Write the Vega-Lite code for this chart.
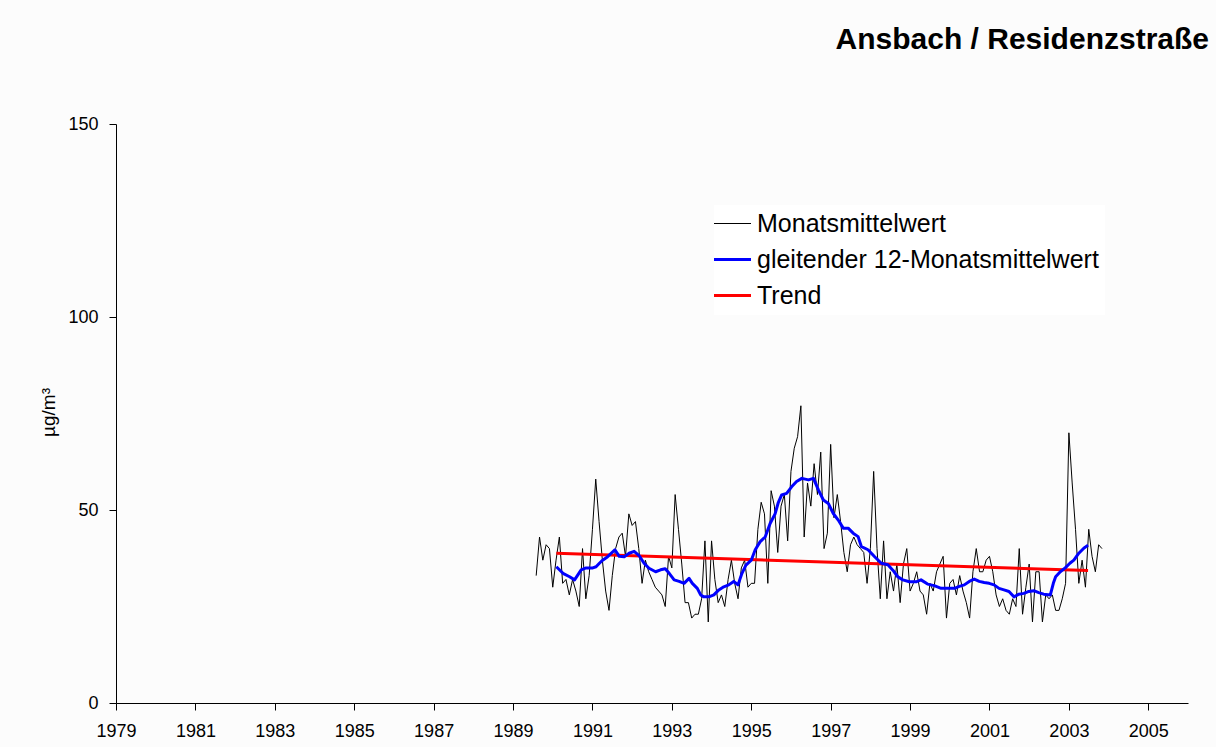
{
  "$schema": "https://vega.github.io/schema/vega-lite/v6.json",
  "width": 1072,
  "height": 579,
  "autosize": {"type": "none"},
  "padding": {"left": 116, "top": 124, "right": 28, "bottom": 44},
  "background": "#fcfcfc",
  "title": {
    "text": "Ansbach / Residenzstraße",
    "anchor": "end",
    "frame": "group",
    "font": "Liberation Sans",
    "fontSize": 30,
    "fontWeight": "bold",
    "color": "#000000",
    "baseline": "alphabetic",
    "offset": 36,
    "dx": 21
  },
  "data": {
    "values": [
      {"t": 1989.583, "v": 33, "s": "Monatsmittelwert"},
      {"t": 1989.667, "v": 43, "s": "Monatsmittelwert"},
      {"t": 1989.75, "v": 37, "s": "Monatsmittelwert"},
      {"t": 1989.833, "v": 41, "s": "Monatsmittelwert"},
      {"t": 1989.917, "v": 40, "s": "Monatsmittelwert"},
      {"t": 1990.0, "v": 30, "s": "Monatsmittelwert"},
      {"t": 1990.083, "v": 37, "s": "Monatsmittelwert"},
      {"t": 1990.167, "v": 43, "s": "Monatsmittelwert"},
      {"t": 1990.25, "v": 31, "s": "Monatsmittelwert"},
      {"t": 1990.333, "v": 32, "s": "Monatsmittelwert"},
      {"t": 1990.417, "v": 28, "s": "Monatsmittelwert"},
      {"t": 1990.5, "v": 32, "s": "Monatsmittelwert"},
      {"t": 1990.583, "v": 29, "s": "Monatsmittelwert"},
      {"t": 1990.667, "v": 25, "s": "Monatsmittelwert"},
      {"t": 1990.75, "v": 40, "s": "Monatsmittelwert"},
      {"t": 1990.833, "v": 27, "s": "Monatsmittelwert"},
      {"t": 1990.917, "v": 33, "s": "Monatsmittelwert"},
      {"t": 1991.0, "v": 45, "s": "Monatsmittelwert"},
      {"t": 1991.083, "v": 58, "s": "Monatsmittelwert"},
      {"t": 1991.167, "v": 47, "s": "Monatsmittelwert"},
      {"t": 1991.25, "v": 37, "s": "Monatsmittelwert"},
      {"t": 1991.333, "v": 29, "s": "Monatsmittelwert"},
      {"t": 1991.417, "v": 24, "s": "Monatsmittelwert"},
      {"t": 1991.5, "v": 33, "s": "Monatsmittelwert"},
      {"t": 1991.583, "v": 40, "s": "Monatsmittelwert"},
      {"t": 1991.667, "v": 43, "s": "Monatsmittelwert"},
      {"t": 1991.75, "v": 44, "s": "Monatsmittelwert"},
      {"t": 1991.833, "v": 38, "s": "Monatsmittelwert"},
      {"t": 1991.917, "v": 49, "s": "Monatsmittelwert"},
      {"t": 1992.0, "v": 46, "s": "Monatsmittelwert"},
      {"t": 1992.083, "v": 47, "s": "Monatsmittelwert"},
      {"t": 1992.167, "v": 40, "s": "Monatsmittelwert"},
      {"t": 1992.25, "v": 31, "s": "Monatsmittelwert"},
      {"t": 1992.333, "v": 37, "s": "Monatsmittelwert"},
      {"t": 1992.417, "v": 34, "s": "Monatsmittelwert"},
      {"t": 1992.5, "v": 32, "s": "Monatsmittelwert"},
      {"t": 1992.583, "v": 30, "s": "Monatsmittelwert"},
      {"t": 1992.667, "v": 29, "s": "Monatsmittelwert"},
      {"t": 1992.75, "v": 28, "s": "Monatsmittelwert"},
      {"t": 1992.833, "v": 25, "s": "Monatsmittelwert"},
      {"t": 1992.917, "v": 38, "s": "Monatsmittelwert"},
      {"t": 1993.0, "v": 35, "s": "Monatsmittelwert"},
      {"t": 1993.083, "v": 54, "s": "Monatsmittelwert"},
      {"t": 1993.167, "v": 45, "s": "Monatsmittelwert"},
      {"t": 1993.25, "v": 36, "s": "Monatsmittelwert"},
      {"t": 1993.333, "v": 26, "s": "Monatsmittelwert"},
      {"t": 1993.417, "v": 26, "s": "Monatsmittelwert"},
      {"t": 1993.5, "v": 22, "s": "Monatsmittelwert"},
      {"t": 1993.583, "v": 23, "s": "Monatsmittelwert"},
      {"t": 1993.667, "v": 23, "s": "Monatsmittelwert"},
      {"t": 1993.75, "v": 27, "s": "Monatsmittelwert"},
      {"t": 1993.833, "v": 42, "s": "Monatsmittelwert"},
      {"t": 1993.917, "v": 21, "s": "Monatsmittelwert"},
      {"t": 1994.0, "v": 42, "s": "Monatsmittelwert"},
      {"t": 1994.083, "v": 32, "s": "Monatsmittelwert"},
      {"t": 1994.167, "v": 26, "s": "Monatsmittelwert"},
      {"t": 1994.25, "v": 28, "s": "Monatsmittelwert"},
      {"t": 1994.333, "v": 25, "s": "Monatsmittelwert"},
      {"t": 1994.417, "v": 32, "s": "Monatsmittelwert"},
      {"t": 1994.5, "v": 37, "s": "Monatsmittelwert"},
      {"t": 1994.583, "v": 31, "s": "Monatsmittelwert"},
      {"t": 1994.667, "v": 27, "s": "Monatsmittelwert"},
      {"t": 1994.75, "v": 35, "s": "Monatsmittelwert"},
      {"t": 1994.833, "v": 37, "s": "Monatsmittelwert"},
      {"t": 1994.917, "v": 30, "s": "Monatsmittelwert"},
      {"t": 1995.0, "v": 31, "s": "Monatsmittelwert"},
      {"t": 1995.083, "v": 31, "s": "Monatsmittelwert"},
      {"t": 1995.167, "v": 45, "s": "Monatsmittelwert"},
      {"t": 1995.25, "v": 52, "s": "Monatsmittelwert"},
      {"t": 1995.333, "v": 49, "s": "Monatsmittelwert"},
      {"t": 1995.417, "v": 31, "s": "Monatsmittelwert"},
      {"t": 1995.5, "v": 55, "s": "Monatsmittelwert"},
      {"t": 1995.583, "v": 51, "s": "Monatsmittelwert"},
      {"t": 1995.667, "v": 39, "s": "Monatsmittelwert"},
      {"t": 1995.75, "v": 51, "s": "Monatsmittelwert"},
      {"t": 1995.833, "v": 54, "s": "Monatsmittelwert"},
      {"t": 1995.917, "v": 42, "s": "Monatsmittelwert"},
      {"t": 1996.0, "v": 60, "s": "Monatsmittelwert"},
      {"t": 1996.083, "v": 66, "s": "Monatsmittelwert"},
      {"t": 1996.167, "v": 69, "s": "Monatsmittelwert"},
      {"t": 1996.25, "v": 77, "s": "Monatsmittelwert"},
      {"t": 1996.333, "v": 43, "s": "Monatsmittelwert"},
      {"t": 1996.417, "v": 57, "s": "Monatsmittelwert"},
      {"t": 1996.5, "v": 51, "s": "Monatsmittelwert"},
      {"t": 1996.583, "v": 62, "s": "Monatsmittelwert"},
      {"t": 1996.667, "v": 54, "s": "Monatsmittelwert"},
      {"t": 1996.75, "v": 65, "s": "Monatsmittelwert"},
      {"t": 1996.833, "v": 40, "s": "Monatsmittelwert"},
      {"t": 1996.917, "v": 44, "s": "Monatsmittelwert"},
      {"t": 1997.0, "v": 67, "s": "Monatsmittelwert"},
      {"t": 1997.083, "v": 48, "s": "Monatsmittelwert"},
      {"t": 1997.167, "v": 54, "s": "Monatsmittelwert"},
      {"t": 1997.25, "v": 47, "s": "Monatsmittelwert"},
      {"t": 1997.333, "v": 39, "s": "Monatsmittelwert"},
      {"t": 1997.417, "v": 34, "s": "Monatsmittelwert"},
      {"t": 1997.5, "v": 41, "s": "Monatsmittelwert"},
      {"t": 1997.583, "v": 43, "s": "Monatsmittelwert"},
      {"t": 1997.667, "v": 41, "s": "Monatsmittelwert"},
      {"t": 1997.75, "v": 40, "s": "Monatsmittelwert"},
      {"t": 1997.833, "v": 39, "s": "Monatsmittelwert"},
      {"t": 1997.917, "v": 31, "s": "Monatsmittelwert"},
      {"t": 1998.0, "v": 40, "s": "Monatsmittelwert"},
      {"t": 1998.083, "v": 60, "s": "Monatsmittelwert"},
      {"t": 1998.167, "v": 40, "s": "Monatsmittelwert"},
      {"t": 1998.25, "v": 27, "s": "Monatsmittelwert"},
      {"t": 1998.333, "v": 42, "s": "Monatsmittelwert"},
      {"t": 1998.417, "v": 27, "s": "Monatsmittelwert"},
      {"t": 1998.5, "v": 34, "s": "Monatsmittelwert"},
      {"t": 1998.583, "v": 29, "s": "Monatsmittelwert"},
      {"t": 1998.667, "v": 36, "s": "Monatsmittelwert"},
      {"t": 1998.75, "v": 26, "s": "Monatsmittelwert"},
      {"t": 1998.833, "v": 36, "s": "Monatsmittelwert"},
      {"t": 1998.917, "v": 40, "s": "Monatsmittelwert"},
      {"t": 1999.0, "v": 29, "s": "Monatsmittelwert"},
      {"t": 1999.083, "v": 31, "s": "Monatsmittelwert"},
      {"t": 1999.167, "v": 34, "s": "Monatsmittelwert"},
      {"t": 1999.25, "v": 29, "s": "Monatsmittelwert"},
      {"t": 1999.333, "v": 28, "s": "Monatsmittelwert"},
      {"t": 1999.417, "v": 23, "s": "Monatsmittelwert"},
      {"t": 1999.5, "v": 31, "s": "Monatsmittelwert"},
      {"t": 1999.583, "v": 29, "s": "Monatsmittelwert"},
      {"t": 1999.667, "v": 34, "s": "Monatsmittelwert"},
      {"t": 1999.75, "v": 36, "s": "Monatsmittelwert"},
      {"t": 1999.833, "v": 38, "s": "Monatsmittelwert"},
      {"t": 1999.917, "v": 22, "s": "Monatsmittelwert"},
      {"t": 2000.0, "v": 31, "s": "Monatsmittelwert"},
      {"t": 2000.083, "v": 32, "s": "Monatsmittelwert"},
      {"t": 2000.167, "v": 28, "s": "Monatsmittelwert"},
      {"t": 2000.25, "v": 33, "s": "Monatsmittelwert"},
      {"t": 2000.333, "v": 29, "s": "Monatsmittelwert"},
      {"t": 2000.417, "v": 26, "s": "Monatsmittelwert"},
      {"t": 2000.5, "v": 22, "s": "Monatsmittelwert"},
      {"t": 2000.583, "v": 34, "s": "Monatsmittelwert"},
      {"t": 2000.667, "v": 40, "s": "Monatsmittelwert"},
      {"t": 2000.75, "v": 34, "s": "Monatsmittelwert"},
      {"t": 2000.833, "v": 34, "s": "Monatsmittelwert"},
      {"t": 2000.917, "v": 37, "s": "Monatsmittelwert"},
      {"t": 2001.0, "v": 38, "s": "Monatsmittelwert"},
      {"t": 2001.083, "v": 34, "s": "Monatsmittelwert"},
      {"t": 2001.167, "v": 28, "s": "Monatsmittelwert"},
      {"t": 2001.25, "v": 25, "s": "Monatsmittelwert"},
      {"t": 2001.333, "v": 27, "s": "Monatsmittelwert"},
      {"t": 2001.417, "v": 24, "s": "Monatsmittelwert"},
      {"t": 2001.5, "v": 23, "s": "Monatsmittelwert"},
      {"t": 2001.583, "v": 27, "s": "Monatsmittelwert"},
      {"t": 2001.667, "v": 25, "s": "Monatsmittelwert"},
      {"t": 2001.75, "v": 40, "s": "Monatsmittelwert"},
      {"t": 2001.833, "v": 23, "s": "Monatsmittelwert"},
      {"t": 2001.917, "v": 30, "s": "Monatsmittelwert"},
      {"t": 2002.0, "v": 36, "s": "Monatsmittelwert"},
      {"t": 2002.083, "v": 21, "s": "Monatsmittelwert"},
      {"t": 2002.167, "v": 34, "s": "Monatsmittelwert"},
      {"t": 2002.25, "v": 34, "s": "Monatsmittelwert"},
      {"t": 2002.333, "v": 21, "s": "Monatsmittelwert"},
      {"t": 2002.417, "v": 28, "s": "Monatsmittelwert"},
      {"t": 2002.5, "v": 27, "s": "Monatsmittelwert"},
      {"t": 2002.583, "v": 28, "s": "Monatsmittelwert"},
      {"t": 2002.667, "v": 24, "s": "Monatsmittelwert"},
      {"t": 2002.75, "v": 24, "s": "Monatsmittelwert"},
      {"t": 2002.833, "v": 27, "s": "Monatsmittelwert"},
      {"t": 2002.917, "v": 31, "s": "Monatsmittelwert"},
      {"t": 2003.0, "v": 70, "s": "Monatsmittelwert"},
      {"t": 2003.083, "v": 57, "s": "Monatsmittelwert"},
      {"t": 2003.167, "v": 45, "s": "Monatsmittelwert"},
      {"t": 2003.25, "v": 31, "s": "Monatsmittelwert"},
      {"t": 2003.333, "v": 37, "s": "Monatsmittelwert"},
      {"t": 2003.417, "v": 30, "s": "Monatsmittelwert"},
      {"t": 2003.5, "v": 45, "s": "Monatsmittelwert"},
      {"t": 2003.583, "v": 38, "s": "Monatsmittelwert"},
      {"t": 2003.667, "v": 34, "s": "Monatsmittelwert"},
      {"t": 2003.75, "v": 41, "s": "Monatsmittelwert"},
      {"t": 2003.833, "v": 40, "s": "Monatsmittelwert"},
      {"t": 1990.091, "v": 38.8, "s": "Trend"},
      {"t": 2003.483, "v": 34.3, "s": "Trend"},
      {"t": 1990.091, "v": 35.3, "s": "gleitender 12-Monatsmittelwert"},
      {"t": 1990.258, "v": 33.6, "s": "gleitender 12-Monatsmittelwert"},
      {"t": 1990.425, "v": 32.7, "s": "gleitender 12-Monatsmittelwert"},
      {"t": 1990.55, "v": 31.9, "s": "gleitender 12-Monatsmittelwert"},
      {"t": 1990.633, "v": 33.2, "s": "gleitender 12-Monatsmittelwert"},
      {"t": 1990.716, "v": 34.5, "s": "gleitender 12-Monatsmittelwert"},
      {"t": 1990.841, "v": 35.0, "s": "gleitender 12-Monatsmittelwert"},
      {"t": 1991.008, "v": 35.0, "s": "gleitender 12-Monatsmittelwert"},
      {"t": 1991.091, "v": 35.3, "s": "gleitender 12-Monatsmittelwert"},
      {"t": 1991.175, "v": 36.2, "s": "gleitender 12-Monatsmittelwert"},
      {"t": 1991.258, "v": 37.0, "s": "gleitender 12-Monatsmittelwert"},
      {"t": 1991.383, "v": 37.9, "s": "gleitender 12-Monatsmittelwert"},
      {"t": 1991.566, "v": 39.7, "s": "gleitender 12-Monatsmittelwert"},
      {"t": 1991.675, "v": 38.0, "s": "gleitender 12-Monatsmittelwert"},
      {"t": 1991.8, "v": 37.9, "s": "gleitender 12-Monatsmittelwert"},
      {"t": 1991.925, "v": 38.8, "s": "gleitender 12-Monatsmittelwert"},
      {"t": 1992.05, "v": 39.3, "s": "gleitender 12-Monatsmittelwert"},
      {"t": 1992.175, "v": 38.2, "s": "gleitender 12-Monatsmittelwert"},
      {"t": 1992.3, "v": 36.2, "s": "gleitender 12-Monatsmittelwert"},
      {"t": 1992.425, "v": 34.9, "s": "gleitender 12-Monatsmittelwert"},
      {"t": 1992.591, "v": 34.0, "s": "gleitender 12-Monatsmittelwert"},
      {"t": 1992.716, "v": 34.5, "s": "gleitender 12-Monatsmittelwert"},
      {"t": 1992.833, "v": 34.8, "s": "gleitender 12-Monatsmittelwert"},
      {"t": 1992.933, "v": 33.6, "s": "gleitender 12-Monatsmittelwert"},
      {"t": 1993.058, "v": 31.9, "s": "gleitender 12-Monatsmittelwert"},
      {"t": 1993.183, "v": 31.5, "s": "gleitender 12-Monatsmittelwert"},
      {"t": 1993.308, "v": 31.0, "s": "gleitender 12-Monatsmittelwert"},
      {"t": 1993.433, "v": 32.3, "s": "gleitender 12-Monatsmittelwert"},
      {"t": 1993.516, "v": 31.0, "s": "gleitender 12-Monatsmittelwert"},
      {"t": 1993.641, "v": 29.7, "s": "gleitender 12-Monatsmittelwert"},
      {"t": 1993.725, "v": 28.0, "s": "gleitender 12-Monatsmittelwert"},
      {"t": 1993.808, "v": 27.5, "s": "gleitender 12-Monatsmittelwert"},
      {"t": 1993.933, "v": 27.5, "s": "gleitender 12-Monatsmittelwert"},
      {"t": 1994.058, "v": 28.0, "s": "gleitender 12-Monatsmittelwert"},
      {"t": 1994.183, "v": 29.3, "s": "gleitender 12-Monatsmittelwert"},
      {"t": 1994.308, "v": 30.1, "s": "gleitender 12-Monatsmittelwert"},
      {"t": 1994.433, "v": 30.6, "s": "gleitender 12-Monatsmittelwert"},
      {"t": 1994.558, "v": 31.5, "s": "gleitender 12-Monatsmittelwert"},
      {"t": 1994.666, "v": 30.6, "s": "gleitender 12-Monatsmittelwert"},
      {"t": 1994.766, "v": 33.6, "s": "gleitender 12-Monatsmittelwert"},
      {"t": 1994.866, "v": 35.7, "s": "gleitender 12-Monatsmittelwert"},
      {"t": 1995.0, "v": 37.0, "s": "gleitender 12-Monatsmittelwert"},
      {"t": 1995.1, "v": 39.7, "s": "gleitender 12-Monatsmittelwert"},
      {"t": 1995.225, "v": 41.8, "s": "gleitender 12-Monatsmittelwert"},
      {"t": 1995.35, "v": 43.0, "s": "gleitender 12-Monatsmittelwert"},
      {"t": 1995.475, "v": 46.5, "s": "gleitender 12-Monatsmittelwert"},
      {"t": 1995.6, "v": 49.0, "s": "gleitender 12-Monatsmittelwert"},
      {"t": 1995.683, "v": 52.0, "s": "gleitender 12-Monatsmittelwert"},
      {"t": 1995.766, "v": 53.9, "s": "gleitender 12-Monatsmittelwert"},
      {"t": 1995.891, "v": 54.3, "s": "gleitender 12-Monatsmittelwert"},
      {"t": 1996.016, "v": 56.0, "s": "gleitender 12-Monatsmittelwert"},
      {"t": 1996.141, "v": 57.4, "s": "gleitender 12-Monatsmittelwert"},
      {"t": 1996.275, "v": 58.2, "s": "gleitender 12-Monatsmittelwert"},
      {"t": 1996.441, "v": 57.8, "s": "gleitender 12-Monatsmittelwert"},
      {"t": 1996.566, "v": 58.2, "s": "gleitender 12-Monatsmittelwert"},
      {"t": 1996.691, "v": 55.2, "s": "gleitender 12-Monatsmittelwert"},
      {"t": 1996.816, "v": 52.6, "s": "gleitender 12-Monatsmittelwert"},
      {"t": 1996.941, "v": 51.7, "s": "gleitender 12-Monatsmittelwert"},
      {"t": 1997.066, "v": 49.1, "s": "gleitender 12-Monatsmittelwert"},
      {"t": 1997.191, "v": 47.4, "s": "gleitender 12-Monatsmittelwert"},
      {"t": 1997.316, "v": 45.3, "s": "gleitender 12-Monatsmittelwert"},
      {"t": 1997.441, "v": 45.3, "s": "gleitender 12-Monatsmittelwert"},
      {"t": 1997.566, "v": 44.0, "s": "gleitender 12-Monatsmittelwert"},
      {"t": 1997.691, "v": 43.1, "s": "gleitender 12-Monatsmittelwert"},
      {"t": 1997.775, "v": 40.5, "s": "gleitender 12-Monatsmittelwert"},
      {"t": 1997.941, "v": 39.7, "s": "gleitender 12-Monatsmittelwert"},
      {"t": 1998.108, "v": 37.9, "s": "gleitender 12-Monatsmittelwert"},
      {"t": 1998.275, "v": 36.2, "s": "gleitender 12-Monatsmittelwert"},
      {"t": 1998.441, "v": 35.8, "s": "gleitender 12-Monatsmittelwert"},
      {"t": 1998.566, "v": 34.4, "s": "gleitender 12-Monatsmittelwert"},
      {"t": 1998.691, "v": 32.7, "s": "gleitender 12-Monatsmittelwert"},
      {"t": 1998.816, "v": 31.9, "s": "gleitender 12-Monatsmittelwert"},
      {"t": 1998.983, "v": 31.4, "s": "gleitender 12-Monatsmittelwert"},
      {"t": 1999.15, "v": 31.4, "s": "gleitender 12-Monatsmittelwert"},
      {"t": 1999.275, "v": 31.9, "s": "gleitender 12-Monatsmittelwert"},
      {"t": 1999.441, "v": 30.8, "s": "gleitender 12-Monatsmittelwert"},
      {"t": 1999.608, "v": 30.4, "s": "gleitender 12-Monatsmittelwert"},
      {"t": 1999.783, "v": 29.7, "s": "gleitender 12-Monatsmittelwert"},
      {"t": 1999.95, "v": 29.7, "s": "gleitender 12-Monatsmittelwert"},
      {"t": 2000.116, "v": 29.7, "s": "gleitender 12-Monatsmittelwert"},
      {"t": 2000.241, "v": 30.2, "s": "gleitender 12-Monatsmittelwert"},
      {"t": 2000.366, "v": 30.6, "s": "gleitender 12-Monatsmittelwert"},
      {"t": 2000.491, "v": 31.5, "s": "gleitender 12-Monatsmittelwert"},
      {"t": 2000.616, "v": 32.1, "s": "gleitender 12-Monatsmittelwert"},
      {"t": 2000.741, "v": 31.5, "s": "gleitender 12-Monatsmittelwert"},
      {"t": 2000.866, "v": 31.2, "s": "gleitender 12-Monatsmittelwert"},
      {"t": 2000.991, "v": 31.0, "s": "gleitender 12-Monatsmittelwert"},
      {"t": 2001.116, "v": 30.6, "s": "gleitender 12-Monatsmittelwert"},
      {"t": 2001.241, "v": 29.7, "s": "gleitender 12-Monatsmittelwert"},
      {"t": 2001.366, "v": 29.3, "s": "gleitender 12-Monatsmittelwert"},
      {"t": 2001.491, "v": 28.9, "s": "gleitender 12-Monatsmittelwert"},
      {"t": 2001.616, "v": 27.5, "s": "gleitender 12-Monatsmittelwert"},
      {"t": 2001.741, "v": 28.2, "s": "gleitender 12-Monatsmittelwert"},
      {"t": 2001.866, "v": 28.4, "s": "gleitender 12-Monatsmittelwert"},
      {"t": 2001.991, "v": 28.9, "s": "gleitender 12-Monatsmittelwert"},
      {"t": 2002.116, "v": 29.1, "s": "gleitender 12-Monatsmittelwert"},
      {"t": 2002.241, "v": 28.6, "s": "gleitender 12-Monatsmittelwert"},
      {"t": 2002.366, "v": 28.2, "s": "gleitender 12-Monatsmittelwert"},
      {"t": 2002.533, "v": 28.0, "s": "gleitender 12-Monatsmittelwert"},
      {"t": 2002.608, "v": 31.0, "s": "gleitender 12-Monatsmittelwert"},
      {"t": 2002.666, "v": 32.7, "s": "gleitender 12-Monatsmittelwert"},
      {"t": 2002.783, "v": 34.0, "s": "gleitender 12-Monatsmittelwert"},
      {"t": 2002.908, "v": 35.0, "s": "gleitender 12-Monatsmittelwert"},
      {"t": 2003.025, "v": 36.2, "s": "gleitender 12-Monatsmittelwert"},
      {"t": 2003.125, "v": 37.0, "s": "gleitender 12-Monatsmittelwert"},
      {"t": 2003.25, "v": 38.8, "s": "gleitender 12-Monatsmittelwert"},
      {"t": 2003.375, "v": 40.1, "s": "gleitender 12-Monatsmittelwert"},
      {"t": 2003.483, "v": 40.9, "s": "gleitender 12-Monatsmittelwert"}
    ]
  },
  "encoding": {
    "x": {
      "field": "t",
      "type": "quantitative",
      "scale": {"domain": [1979, 2006], "nice": false, "zero": false},
      "axis": {
        "title": null,
        "values": [1979, 1981, 1983, 1985, 1987, 1989, 1991, 1993, 1995, 1997, 1999, 2001, 2003, 2005],
        "format": "d",
        "grid": false,
        "domainColor": "#000000",
        "domainWidth": 1,
        "tickColor": "#000000",
        "tickSize": 7,
        "labelColor": "#000000",
        "labelFont": "Liberation Sans",
        "labelFontSize": 18,
        "labelPadding": 12,
        "labelOverlap": false,
        "labelFlush": false
      }
    },
    "y": {
      "field": "v",
      "type": "quantitative",
      "scale": {"domain": [0, 150], "nice": false},
      "axis": {
        "title": "µg/m³",
        "titleFont": "Liberation Sans",
        "titleFontSize": 19,
        "titleFontWeight": "normal",
        "titleColor": "#000000",
        "titleAngle": -90,
        "titleAlign": "center",
        "titleBaseline": "middle",
        "titleX": -68,
        "titleY": 288,
        "values": [0, 50, 100, 150],
        "grid": false,
        "domainColor": "#000000",
        "domainWidth": 1,
        "tickColor": "#000000",
        "tickSize": 7,
        "labelColor": "#000000",
        "labelFont": "Liberation Sans",
        "labelFontSize": 18,
        "labelPadding": 11
      }
    },
    "color": {
      "field": "s",
      "type": "nominal",
      "sort": null,
      "scale": {
        "domain": ["Monatsmittelwert", "gleitender 12-Monatsmittelwert", "Trend"],
        "range": ["#000000", "#0000ff", "#ff0000"]
      },
      "legend": {
        "title": null,
        "orient": "none",
        "legendX": 598,
        "legendY": 81,
        "direction": "vertical",
        "fillColor": "#ffffff",
        "padding": 6,
        "symbolType": "stroke",
        "symbolSize": 1369,
        "symbolStrokeWidth": 2,
        "labelFont": "Liberation Sans",
        "labelFontSize": 25,
        "labelColor": "#000000",
        "labelOffset": 12,
        "rowPadding": 10,
        "labelLimit": 500,
        "encode": {
          "symbols": {
            "update": {
              "strokeWidth": {"signal": "datum.value === 'Monatsmittelwert' ? 1 : 3"}
            }
          }
        }
      }
    }
  },
  "layer": [
    {
      "transform": [{"filter": "datum.s === 'Monatsmittelwert'"}],
      "mark": {"type": "line", "strokeWidth": 1, "strokeJoin": "miter", "clip": true}
    },
    {
      "transform": [{"filter": "datum.s !== 'Monatsmittelwert'"}],
      "mark": {"type": "line", "strokeWidth": 3, "strokeJoin": "round", "clip": true}
    }
  ],
  "config": {
    "view": {"stroke": null},
    "font": "Liberation Sans"
  }
}
